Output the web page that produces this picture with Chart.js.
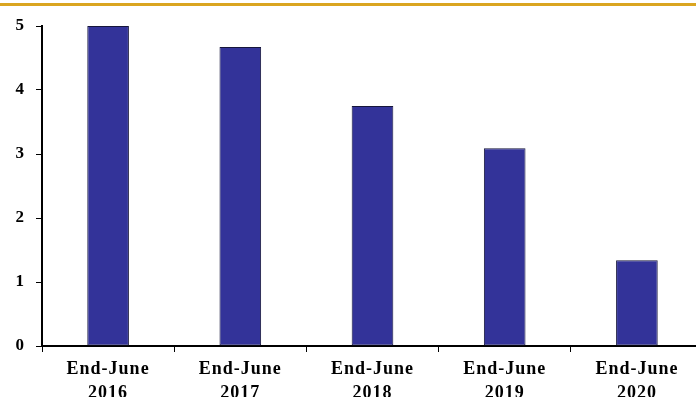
<!DOCTYPE html>
<html>
<head>
<meta charset="utf-8">
<script src="https://cdn.jsdelivr.net/npm/chart.js@4.4.1/dist/chart.umd.min.js"></script>
<style>
  html, body { margin: 0; padding: 0; background: #ffffff; overflow: hidden; }
  #wrap { width: 696px; height: 397px; overflow: hidden; position: relative; }
  canvas { display: block; }
</style>
</head>
<body>
<div id="wrap"><canvas id="chart" width="703" height="397"></canvas></div>
<script>
// Categories (two-line labels) and values
const categories = [
  ['End-June', '2016'],
  ['End-June', '2017'],
  ['End-June', '2018'],
  ['End-June', '2019'],
  ['End-June', '2020']
];
const values = [5.0, 4.67, 3.75, 3.09, 1.34];
const yTicks = [0, 1, 2, 3, 4, 5];

const serif = "'Liberation Serif', 'Times New Roman', serif";

// Gold rule across the top, plus wider letter spacing for axis labels
const decor = {
  id: 'decor',
  beforeDraw(chart) {
    const ctx = chart.ctx;
    ctx.save();
    ctx.fillStyle = '#DAA520';
    ctx.fillRect(0, 3, chart.width, 3);
    ctx.restore();
    ctx.letterSpacing = '1px';
  }
};

new Chart(document.getElementById('chart'), {
  type: 'bar',
  data: {
    labels: categories,
    datasets: [{
      data: values,
      backgroundColor: '#333399',
      borderColor: '#16163c',
      borderWidth: 1,
      borderSkipped: false,
      categoryPercentage: 1,
      barPercentage: 0.315
    }]
  },
  options: {
    responsive: false,
    animation: false,
    devicePixelRatio: 1,
    layout: { padding: { top: 26, left: 0, right: 0, bottom: 0 } },
    plugins: { legend: { display: false }, tooltip: { enabled: false } },
    scales: {
      x: {
        grid: { offset: true, drawOnChartArea: false, tickLength: 6, color: '#000000', lineWidth: 1 },
        border: { display: true, color: '#000000', width: 2 },
        ticks: {
          color: '#000000',
          padding: 6,
          maxRotation: 0,
          autoSkip: false,
          font: { family: serif, size: 18, weight: 'bold', lineHeight: 1.3 }
        },
        afterFit(s) { s.height = 51; }
      },
      y: {
        min: 0,
        max: 5,
        afterBuildTicks(s) { s.ticks = yTicks.map(v => ({ value: v })); },
        grid: { drawOnChartArea: false, tickLength: 6, color: '#000000', lineWidth: 1 },
        border: { display: true, color: '#000000', width: 2 },
        ticks: {
          color: '#000000',
          padding: 11,
          font: { family: serif, size: 17, weight: 'bold' }
        },
        afterFit(s) { s.width = 42; }
      }
    }
  },
  plugins: [decor]
});
</script>
</body>
</html>
